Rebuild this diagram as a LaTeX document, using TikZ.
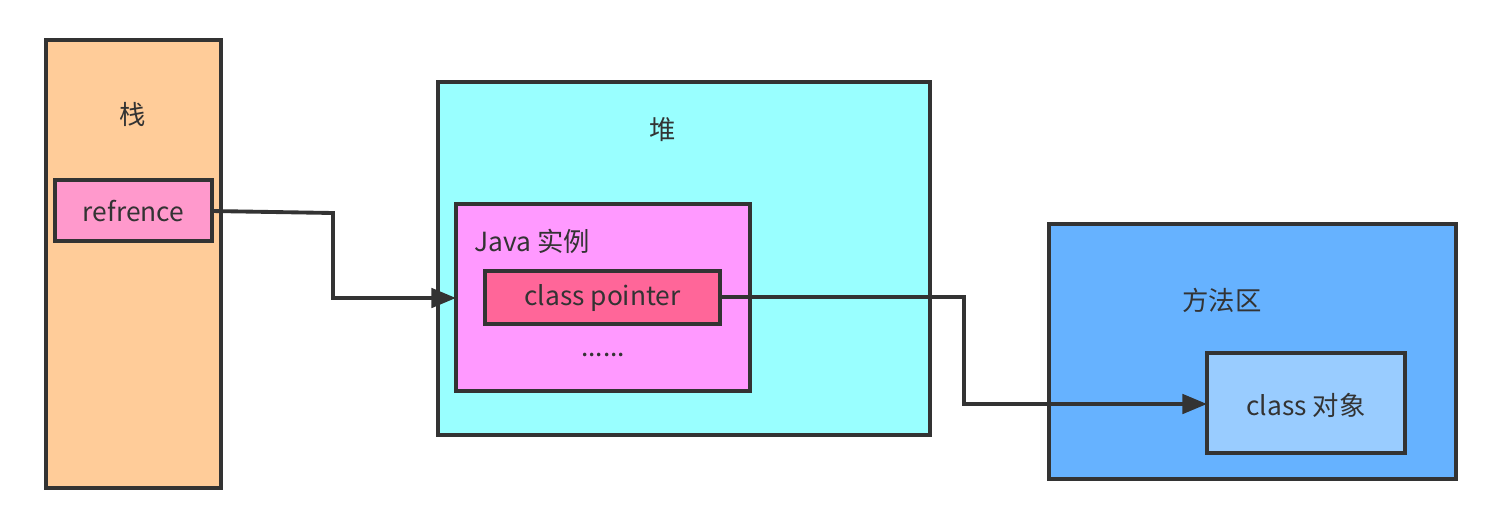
\documentclass[tikz,border=0pt]{standalone}
\usepackage{fontspec}
\setmainfont{Noto Sans CJK SC}
\usetikzlibrary{arrows.meta}
\definecolor{stroke}{HTML}{333333}
\definecolor{stackc}{HTML}{FFCC99}
\definecolor{refc}{HTML}{FF99CC}
\definecolor{heapc}{HTML}{99FFFF}
\definecolor{instc}{HTML}{FF99FF}
\definecolor{ptrc}{HTML}{FF6699}
\definecolor{methc}{HTML}{66B2FF}
\definecolor{objc}{HTML}{99CCFF}
\tikzset{
  box/.style={draw=stroke, line width=2.2pt, inner sep=0pt},
  lbl/.style={text=stroke, font=\fontsize{15}{17}\selectfont, inner sep=0pt},
  conn/.style={draw=stroke, line width=2.2pt, -{Triangle[length=14pt,width=11pt]}}
}
\begin{document}
\begin{tikzpicture}[x=0.02cm, y=-0.02cm]
\useasboundingbox (0,0) rectangle (1498,518);
% stack
\draw[box, fill=stackc] (46,40) rectangle (221,488);
\node[lbl] (stacklbl) at (133,114) {栈};
\draw[box, fill=refc] (55,180) rectangle (212,241);
\node[lbl] (ref) at (133.5,211) {refrence};
\coordinate (refR) at (212,211);
% heap
\draw[box, fill=heapc] (438,82) rectangle (930,435);
\node[lbl] (heaplbl) at (663,130) {堆};
\draw[box, fill=instc] (456,204) rectangle (750,391);
\coordinate (instL) at (456,298);
\node[lbl, anchor=west] (instlbl) at (474,241) {Java 实例};
\draw[box, fill=ptrc] (485,271) rectangle (720,324);
\node[lbl] (ptr) at (602.5,298) {class pointer};
\coordinate (ptrR) at (720,297);
\node[lbl] (dots) at (603,355) {......};
% method area
\draw[box, fill=methc] (1049,224) rectangle (1456,479);
\node[lbl] (methlbl) at (1222,300) {方法区};
\draw[box, fill=objc] (1207,353) rectangle (1405,453);
\node[lbl] (obj) at (1306,405) {class 对象};
\coordinate (objL) at (1207,404);
% connectors
\draw[conn] (refR) -- (333,213) -- (333,298) -- (instL);
\draw[conn] (ptrR) -- (964,297) -- (964,404) -- (objL);
\end{tikzpicture}
\end{document}
